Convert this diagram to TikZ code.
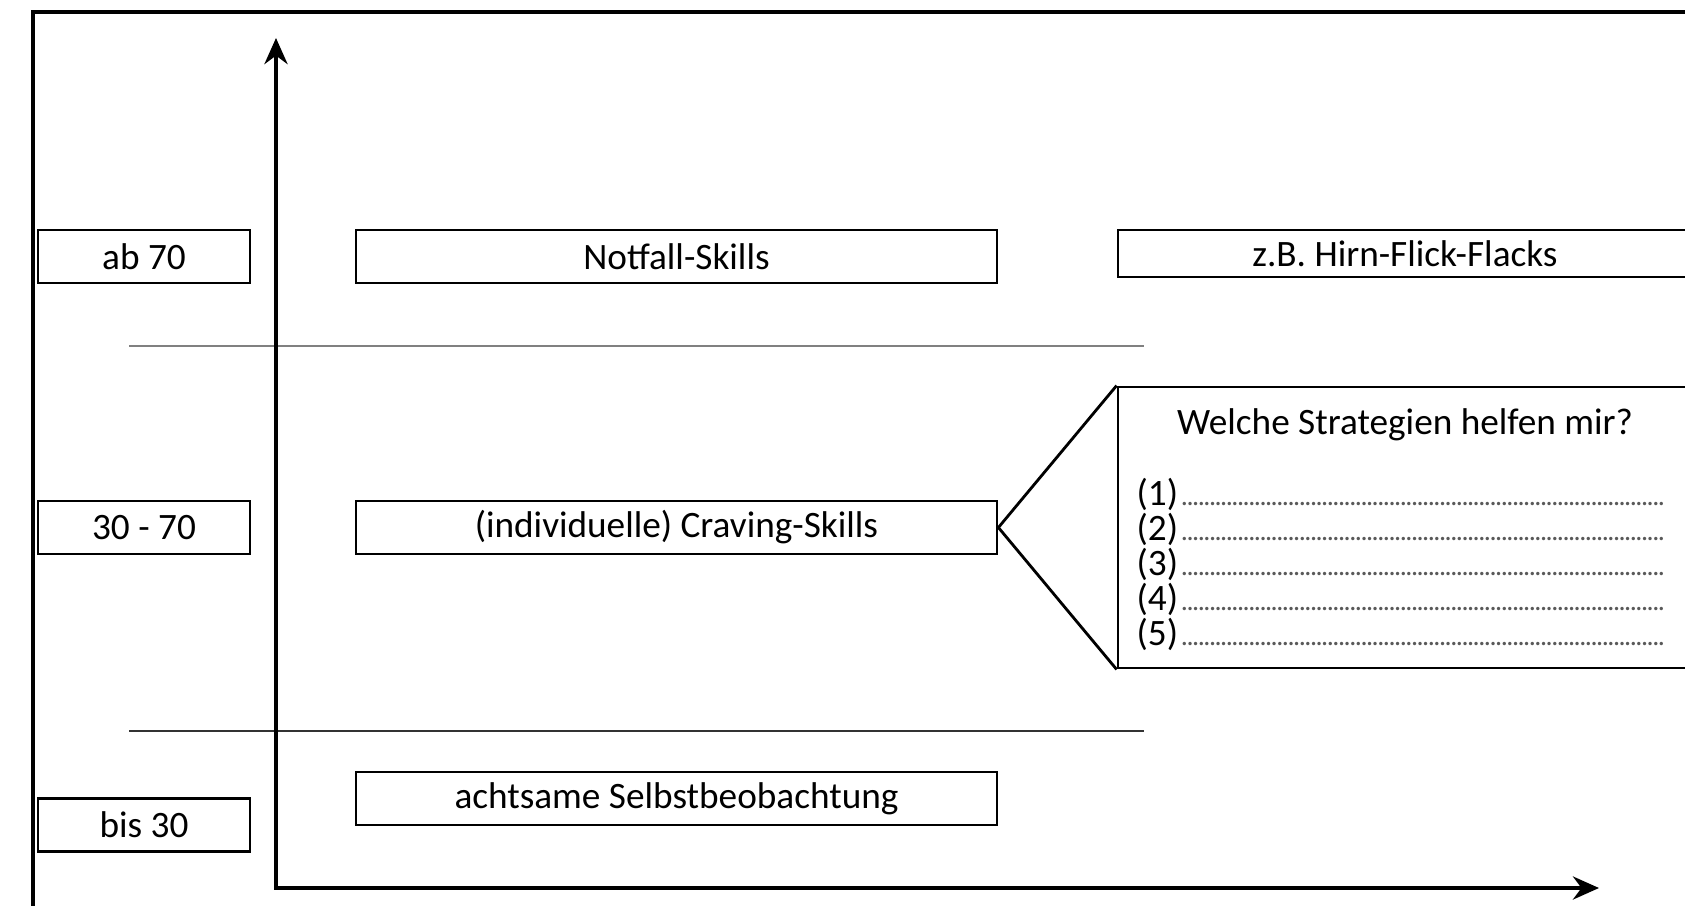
\documentclass[tikz,border=0pt]{standalone}
\usepackage{fontspec}
\setmainfont{Carlito}
\usetikzlibrary{arrows.meta}
\newcommand{\punktzeile}{{\color{black!65}\footnotesize\leaders\hbox to 0.2em{\hss.\hss}\hfill}\mbox{}}

\begin{document}
\begin{tikzpicture}[
	font=\fontsize{10.6}{12.7}\selectfont,
	kasten/.style = {draw, line width=0.8pt, fill=white, inner sep=0pt},
	wert/.style = {kasten, minimum width=2.12cm, minimum height=0.53cm},
	skill/.style = {kasten, minimum width=6.41cm, minimum height=0.53cm},
	eintrag/.style = {anchor=west, inner sep=0pt, text width=5.32cm},
	achse/.style = {line width=1.3pt, {Stealth[length=2.6mm,width=2.3mm]}-{Stealth[length=2.6mm,width=2.3mm]}}]
	\clip (0,0) rectangle (16.85,9.05);
	\draw[line width=0.9pt] (0.33,-0.5) rectangle (17.3,8.93);

	\coordinate (oben) at (2.76,8.67);
	\coordinate (rechts) at (15.99,0.17);
	\coordinate (L1) at (1.29,5.59);
	\coordinate (R1) at (11.44,5.59);
	\coordinate (L2) at (1.29,1.74);
	\coordinate (R2) at (11.44,1.74);

	\draw[gray, line width=0.4pt] (L1) -- (R1);
	\draw[black!80, line width=0.7pt] (L2) -- (R2);
	\draw[achse] (oben) |- (rechts);

	\node[wert] (ab) at (1.44,6.485) {ab 70};
	\node[wert] (mitte) at (1.44,3.775) {30 - 70};
	\node[wert] (bis) at (1.44,0.80) {bis 30};

	\node[skill] (notfall) at (6.765,6.485) {Notfall-Skills};
	\node[skill] (craving) at (6.765,3.775) {(individuelle) Craving-Skills};
	\node[skill] (achtsam) at (6.765,1.065) {achtsame Selbstbeobachtung};

	\node[kasten, minimum width=5.74cm, minimum height=0.47cm] (beispiel) at (14.05,6.515) {z.B. Hirn-Flick-Flacks};
	\node[kasten, minimum width=5.74cm, minimum height=2.81cm] (frage) at (14.05,3.775) {};
	\node (titel) at (14.05,4.80) {Welche Strategien helfen mir?};
	\node[eintrag] (s1) at (11.36,4.11) {(1)\punktzeile};
	\node[eintrag] (s2) at (11.36,3.76) {(2)\punktzeile};
	\node[eintrag] (s3) at (11.36,3.41) {(3)\punktzeile};
	\node[eintrag] (s4) at (11.36,3.06) {(4)\punktzeile};
	\node[eintrag] (s5) at (11.36,2.71) {(5)\punktzeile};

	\draw[line width=0.8pt] (frage.north west) -- (craving.east) -- (frage.south west);
\end{tikzpicture}
\end{document}
